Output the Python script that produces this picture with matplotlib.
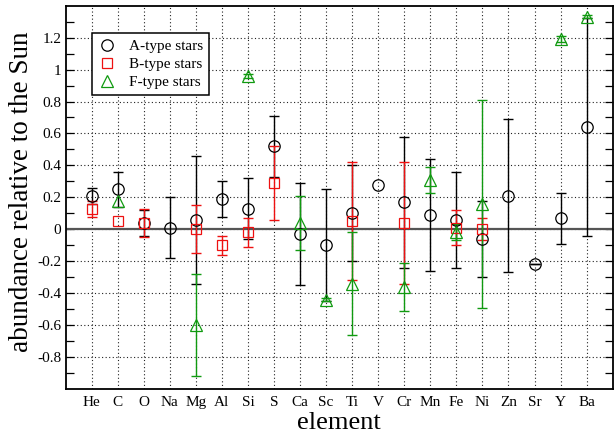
import numpy as np
import matplotlib
matplotlib.use("Agg")
import matplotlib.pyplot as plt
from matplotlib.lines import Line2D
from matplotlib.ticker import FixedLocator, FuncFormatter

plt.rcParams['font.family'] = ['Liberation Serif', 'DejaVu Serif']
plt.rcParams['axes.unicode_minus'] = False

elements = ["He", "C", "O", "Na", "Mg", "Al", "Si", "S", "Ca", "Sc",
            "Ti", "V", "Cr", "Mn", "Fe", "Ni", "Zn", "Sr", "Y", "Ba"]

nan = np.nan
# A-type stars
a_elems = ["He", "C", "O", "Na", "Mg", "Al", "Si", "S", "Ca", "Sc",
           "Ti", "V", "Cr", "Mn", "Fe", "Ni", "Zn", "Sr", "Y", "Ba"]
a_vals = [0.21, 0.25, 0.04, 0.01, 0.06, 0.19, 0.13, 0.52, -0.03, -0.10,
          0.10, 0.28, 0.17, 0.09, 0.06, -0.06, 0.21, -0.22, 0.07, 0.64]
a_errs = [0.05, 0.11, 0.08, 0.19, 0.40, 0.11, 0.19, 0.19, 0.32, 0.35,
          0.30, nan, 0.41, 0.35, 0.30, 0.24, 0.48, 0.0, 0.16, 0.68]
# B-type stars
b_elems = ["He", "C", "O", "Mg", "Al", "Si", "S", "Ti", "Cr", "Fe", "Ni"]
b_vals = [0.13, 0.05, 0.04, 0.00, -0.10, -0.02, 0.29, 0.05, 0.04, 0.01, 0.00]
b_errs = [0.05, nan, 0.09, 0.15, 0.06, 0.09, 0.23, 0.37, 0.38, 0.11, 0.07]
# F-type stars
f_elems = ["C", "Mg", "Si", "Ca", "Sc", "Ti", "Cr", "Mn", "Fe", "Ni", "Y", "Ba"]
f_vals = [0.18, -0.60, 0.96, 0.04, -0.44, -0.34, -0.36, 0.31, -0.02, 0.16, 1.19, 1.33]
f_errs = [nan, 0.32, 0.01, 0.17, 0.01, 0.32, 0.15, 0.08, 0.05, 0.65, 0.02, 0.01]

series = [
    ("A-type stars", a_elems, a_vals, a_errs, 'o', 'black', 'black', 8.2),
    ("B-type stars", b_elems, b_vals, b_errs, 's', '#ee1111', '#ee1111', 7.0),
    ("F-type stars", f_elems, f_vals, f_errs, '^', '#109a10', '#109a10', 8.4),
]

fig = plt.figure(figsize=(6.14, 4.34), dpi=100)
ax = fig.add_axes([0.1067, 0.1037, 0.8912, 0.8832])

pos = {e: i + 1 for i, e in enumerate(elements)}

ax.axhline(0, color='#555555', lw=1.6, zorder=2)

handles = []
for label, els, vals, errs, mk, col, ecol, ms in series:
    x = np.array([pos[e] for e in els], dtype=float)
    y = np.array(vals, dtype=float)
    err = np.array(errs, dtype=float)
    m = ~np.isnan(err)
    ax.errorbar(x[m], y[m], yerr=err[m], fmt='none', ecolor=ecol,
                elinewidth=1.0, capsize=3.3, capthick=1.0, zorder=3)
    ax.plot(x, y, linestyle='none', marker=mk, markersize=ms,
            markerfacecolor='none', markeredgecolor=col, markeredgewidth=0.9,
            zorder=4)
    handles.append(Line2D([], [], linestyle='none', marker=mk, markersize=ms,
                          markerfacecolor='none', markeredgecolor=col,
                          markeredgewidth=0.9, label=label))

ax.set_xlim(0, 21)
ax.set_ylim(-1.0, 1.4)


def fmt(v, p):
    v = round(v, 2)
    if abs(v) < 1e-9:
        return "0"
    return "%g" % v


ax.set_xticks([pos[e] for e in elements])
ax.set_xticklabels(elements)
ax.yaxis.set_major_locator(FixedLocator([round(v, 1) for v in np.arange(-0.8, 1.21, 0.2)]))
ax.yaxis.set_minor_locator(FixedLocator([round(v, 1) for v in np.arange(-0.9, 1.31, 0.2)]))
ax.yaxis.set_major_formatter(FuncFormatter(fmt))

ax.tick_params(axis='y', which='both', direction='in', length=6, width=0.9,
               left=True, right=True, labelsize=11, pad=3)
ax.tick_params(axis='x', which='both', length=0, labelsize=11, pad=5)

ax.grid(True, which='major', color='#222222', linestyle=(0, (1, 2.2)), linewidth=0.8, zorder=1)
ax.set_axisbelow(True)

for s in ax.spines.values():
    s.set_linewidth(1.3)

ax.set_ylabel("abundance relative to the Sun", fontsize=19.5)
ax.yaxis.set_label_coords(-0.058, 0.515)
ax.set_xlabel("element", fontsize=19)
ax.xaxis.set_label_coords(0.5, -0.06)

leg = ax.legend(handles=handles, loc='upper left', bbox_to_anchor=(0.048, 0.929),
                borderaxespad=0, fontsize=11, frameon=True, fancybox=False,
                framealpha=1, edgecolor='black', handlelength=1.2,
                handletextpad=0.8, borderpad=0.42, labelspacing=0.28)
leg.get_frame().set_linewidth(1.1)

fig.savefig("out.png", dpi=100)
